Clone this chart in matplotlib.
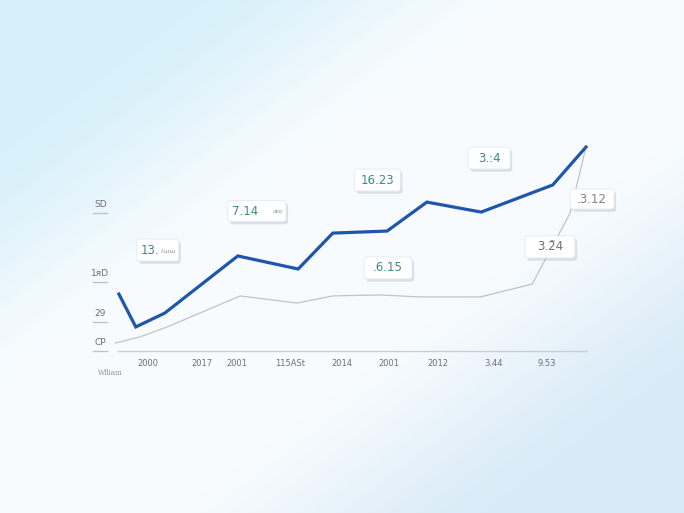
import numpy as np
import matplotlib.pyplot as plt
import matplotlib.patheffects as pe
from matplotlib.patches import FancyBboxPatch

# series (x in axis units 0..10, y in value units 0..100)
blue_x = [0.02, 0.38, 1.0, 2.56, 3.85, 4.59, 5.75, 6.60, 7.76, 9.29, 10.0]
blue_y = [27.9, 11.8, 18.6, 46.6, 40.2, 57.8, 58.8, 73.0, 68.1, 81.4, 100.0]
gray_x = [-0.06, 0.47, 1.05, 2.61, 3.82, 4.59, 5.6, 6.45, 7.74, 8.85, 9.66, 10.0]
gray_y = [3.9, 6.9, 11.8, 27.0, 23.5, 27.0, 27.5, 26.5, 26.5, 32.8, 67.6, 100.0]

x_labels = ['2000', '2017', '2001', '115ASt', '2014', '2001', '2012', '3.44', '9.53']
x_label_pos = [0.64, 1.79, 2.54, 3.68, 4.79, 5.79, 6.84, 8.03, 9.17]
y_labels = ['CP', '29', '1ᴙD', 'SD']
y_ticks = [0, 14.2, 33.8, 67.6]

# callout boxes: main text, small suffix, centre x, centre y, text colour
notes = [
    ('13.', '/ɯɯ', 0.85, 49.5, '#3f8a78'),
    ('7.14', 'ᴜɪɒ', 2.97, 68.6, '#3f8a78'),
    ('16.23', '', 5.54, 83.8, '#3f8a78'),
    ('.6.15', '', 5.77, 40.7, '#3f8a78'),
    ('3.:4', '', 7.93, 94.6, '#3f8a78'),
    ('.3.12', '', 10.13, 74.5, '#7d8388'),
    ('3.2̃4', '', 9.23, 51.0, '#6e7479'),
]
# box sizes in pixels (w, h)
box_px = [(42, 22), (58, 21), (46, 22), (48, 22), (42, 22), (44, 20), (50, 22)]

PX_X = 46.8   # px per x unit
PX_Y = 2.04   # px per y unit

fig = plt.figure(figsize=(6.84, 5.13), dpi=100)
ax = fig.add_axes([0, 0, 1, 1])
ax.set_xlim(-2.521, 12.094)
ax.set_ylim(-79.4, 172.06)
ax.axis('off')

# background: white diagonal band, light blue top-left and bottom-right
h, w = 513, 684
yy, xx = np.mgrid[0:h, 0:w]
u = xx / w + yy / h - 1.0
t = np.clip((np.abs(u) - 0.2) / 0.55, 0, 1)
t = t * t * (3 - 2 * t)
white = np.array([0.972, 0.986, 0.997])
blue_tl = np.array([0.84, 0.94, 0.98])
blue_br = np.array([0.85, 0.92, 0.97])
blue = np.where(u[..., None] < 0, blue_tl[None, None, :], blue_br[None, None, :])
img = white[None, None, :] * (1 - t[..., None]) + blue * t[..., None]
ax.imshow(img, extent=(-2.521, 12.094, -79.4, 172.06), aspect='auto', zorder=0)

# baseline + y tick marks
ax.plot([0, 10], [0, 0], color='#c9ced3', lw=1.0, zorder=1)
for v, lab in zip(y_ticks, y_labels):
    ax.plot([-0.53, -0.24], [v, v], color='#b9c0c6', lw=0.9, zorder=1)
    ax.text(-0.38, v + 2.0, lab, ha='center', va='bottom', fontsize=6.5,
            color='#6b7075', zorder=2)

for p, lab in zip(x_label_pos, x_labels):
    ax.text(p, -5.9, lab, ha='center', va='center', fontsize=6, color='#6b7075', zorder=2)
ax.text(-0.17, -10.8, 'Wlliam', ha='center', va='center', fontsize=5,
        color='#8a9096', family='DejaVu Serif', zorder=2)

ax.plot(gray_x, gray_y, color='#bfc4c9', lw=0.9, zorder=3)
ax.plot(blue_x, blue_y, color='#1f55ad', lw=2.3, solid_joinstyle='miter', zorder=4)

for (main, small, x, y, col), (bw, bh) in zip(notes, box_px):
    wx, hy = bw / PX_X, bh / PX_Y
    box = FancyBboxPatch((x - wx / 2, y - hy / 2), wx, hy,
                         boxstyle='round,pad=0,rounding_size=0.06',
                         mutation_aspect=PX_X / PX_Y,
                         fc='white', ec='#e4e9ee', lw=0.6, zorder=6)
    box.set_path_effects([
        pe.SimplePatchShadow(offset=(1.5, -2), shadow_rgbFace='#9fb3c4', alpha=0.35),
        pe.Normal()])
    ax.add_patch(box)
    if small:
        ax.annotate(main, (x - wx / 2, y), xytext=(3, 0), textcoords='offset points',
                    ha='left', va='center', fontsize=8.5, color=col, zorder=7)
        ax.annotate(small, (x + wx / 2, y), xytext=(-2.5, -0.5), textcoords='offset points',
                    ha='right', va='center', fontsize=4.5, color='#8a9096', zorder=7)
    else:
        ax.text(x, y, main, ha='center', va='center', fontsize=8.5, color=col, zorder=7)

fig.savefig('out.png', dpi=100)
